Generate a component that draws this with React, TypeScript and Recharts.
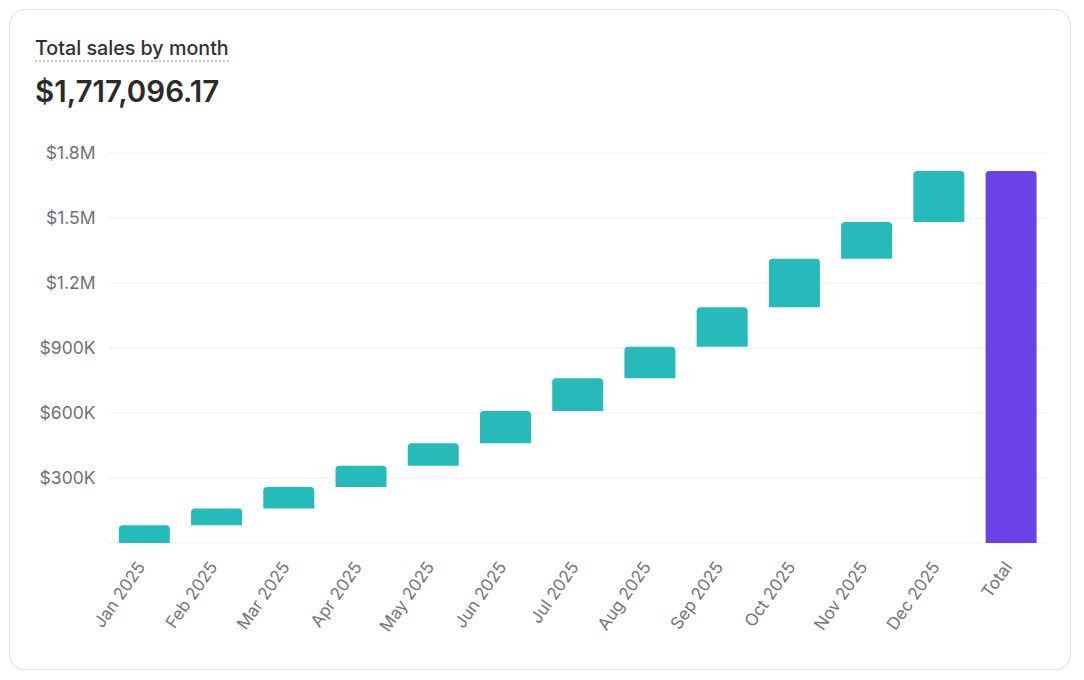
import { Bar, BarChart, CartesianGrid, Cell, XAxis, YAxis } from 'recharts'

const months = [
  'Jan 2025', 'Feb 2025', 'Mar 2025', 'Apr 2025', 'May 2025', 'Jun 2025',
  'Jul 2025', 'Aug 2025', 'Sep 2025', 'Oct 2025', 'Nov 2025', 'Dec 2025',
]
const monthlySales = [
  81800, 77300, 99900, 97100, 104000, 148900,
  151000, 146300, 181900, 223700, 169100, 236096.17,
]
const totalLabel = 'Total'
const yTicks = [0, 300000, 600000, 900000, 1200000, 1500000, 1800000]

const TEAL = '#26bbba'
const PURPLE = '#6c41e8'
const FONT = 'Inter, "Noto Sans", sans-serif'

type Step = { name: string; range: [number, number]; isTotal: boolean }

function buildSteps(): Step[] {
  let running = 0
  const steps: Step[] = months.map((name, i) => {
    const start = running
    running += monthlySales[i]
    return { name, range: [start, running], isTotal: false }
  })
  steps.push({ name: totalLabel, range: [0, running], isTotal: true })
  return steps
}

const steps = buildSteps()
const total = steps[steps.length - 1].range[1]

function formatMoney(v: number) {
  if (v === 0) return ''
  if (v >= 1000000) return `$${(v / 1000000).toFixed(1)}M`
  return `$${Math.round(v / 1000)}K`
}

export default function App() {
  return (
    <div
      style={{
        position: 'relative',
        width: 1062,
        height: 661,
        margin: '1px 0 0 1px',
        boxSizing: 'border-box',
        border: '1px solid #e3e3e3',
        borderRadius: 16,
        boxShadow: '0 1px 2px rgba(0,0,0,0.06)',
        background: '#fff',
        fontFamily: FONT,
      }}
    >
      <div style={{ position: 'absolute', left: 25, top: 26 }}>
        <div
          style={{
            display: 'inline-block',
            fontSize: 19.7,
            fontWeight: 500,
            color: '#303030',
            lineHeight: '24px',
            borderBottom: '2px dotted #c9c9c9',
          }}
        >
          Total sales by month
        </div>
        <div
          style={{
            fontSize: 29.5,
            fontWeight: 600,
            color: '#2a2a2a',
            lineHeight: '36px',
            marginTop: 11,
          }}
        >
          {'$' + total.toLocaleString('en-US', { minimumFractionDigits: 2, maximumFractionDigits: 2 })}
        </div>
      </div>
      <div style={{ position: 'absolute', left: 10, top: 120 }}>
        <BarChart
          width={1040}
          height={530}
          data={steps}
          margin={{ top: 23, right: 13, left: 8, bottom: 17 }}
          barCategoryGap="15%"
        >
          <CartesianGrid vertical={false} stroke="#efefef" />
          <XAxis
            dataKey="name"
            interval={0}
            angle={-55}
            textAnchor="end"
            height={100}
            axisLine={false}
            tickLine={false}
            tickMargin={11}
            tick={{ fill: '#74747e', fontSize: 17, fontFamily: FONT, dx: -8 }}
          />
          <YAxis
            width={80}
            domain={[0, 1800000]}
            ticks={yTicks}
            tickFormatter={formatMoney}
            axisLine={false}
            tickLine={false}
            tickMargin={6.5}
            tick={{ fill: '#70707a', fontSize: 17.5, fontFamily: FONT }}
          />
          <Bar dataKey="range" radius={[4, 4, 0, 0]} isAnimationActive={false}>
            {steps.map((s) => (
              <Cell key={s.name} fill={s.isTotal ? PURPLE : TEAL} />
            ))}
          </Bar>
        </BarChart>
      </div>
    </div>
  )
}
